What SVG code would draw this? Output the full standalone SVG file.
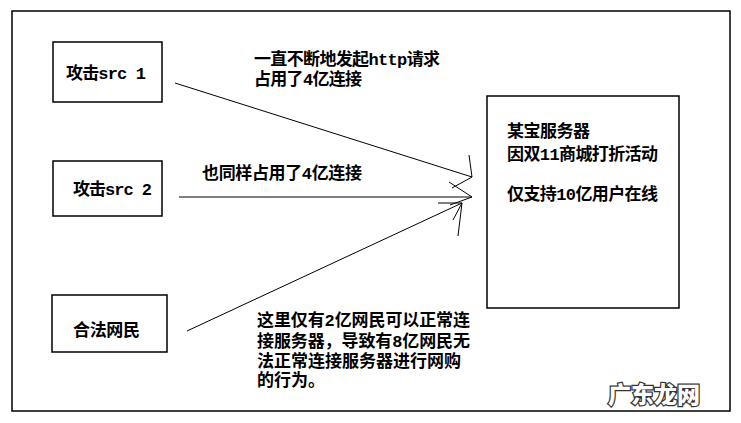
<svg xmlns="http://www.w3.org/2000/svg" width="741" height="423" viewBox="0 0 741 423">
<style>
.box{fill:none;stroke:#000;stroke-width:1.5}
.t{font-family:"Liberation Mono","Noto Sans CJK SC",monospace;font-size:17px;font-weight:bold;fill:#000}
.c{fill:none;stroke:#000;stroke-width:1}
.wm{font-family:"Noto Sans CJK SC",sans-serif;font-size:23px;font-weight:900;fill:#fff;stroke:#333;stroke-width:2.5;paint-order:stroke}
</style>
<rect width="741" height="423" fill="#fff"/>
<rect class="box" x="12" y="11" width="718" height="400"/>
<g id="src1"><rect class="box" x="53" y="42" width="109" height="60"/><text class="t" x="66" y="79" textLength="80">攻击src 1</text></g>
<g id="src2"><rect class="box" x="53" y="161" width="109" height="55"/><text class="t" x="73" y="195" textLength="79">攻击src 2</text></g>
<g id="user"><rect class="box" x="52" y="295" width="115" height="57"/><text class="t" x="73" y="336" textLength="67">合法网民</text></g>
<g id="server"><rect class="box" x="487" y="96" width="192" height="212"/>
<text class="t" x="507" y="137" textLength="83">某宝服务器</text>
<text class="t" x="507" y="160" textLength="151">因双11商城打折活动</text>
<text class="t" x="507" y="200" textLength="151">仅支持10亿用户在线</text></g>
<g id="labels">
<text class="t" x="254" y="65" textLength="186">一直不断地发起http请求</text>
<text class="t" x="254" y="85" textLength="108">占用了4亿连接</text>
<text class="t" x="202" y="179" textLength="160">也同样占用了4亿连接</text>
<text class="t" x="257" y="326" textLength="213">这里仅有2亿网民可以正常连</text>
<text class="t" x="257" y="347" textLength="213">接服务器，导致有8亿网民无</text>
<text class="t" x="257" y="367" textLength="204">法正常连接服务器进行网购</text>
<text class="t" x="257" y="386" textLength="68">的行为。</text>
</g>
<g id="connectors">
<line class="c" x1="175" y1="83" x2="472" y2="177"/>
<polyline class="c" points="469,155 472,177 452,188"/>
<line class="c" x1="179" y1="197" x2="472" y2="197"/>
<polyline class="c" points="449,182 472,197 450,205"/>
<line class="c" x1="187" y1="331" x2="462" y2="203"/>
<polyline class="c" points="438,203 462,203 458,236"/>
<line class="c" x1="453" y1="220" x2="462" y2="203"/>
</g>
<text class="wm" x="608" y="403" textLength="92">广东龙网</text>
</svg>
